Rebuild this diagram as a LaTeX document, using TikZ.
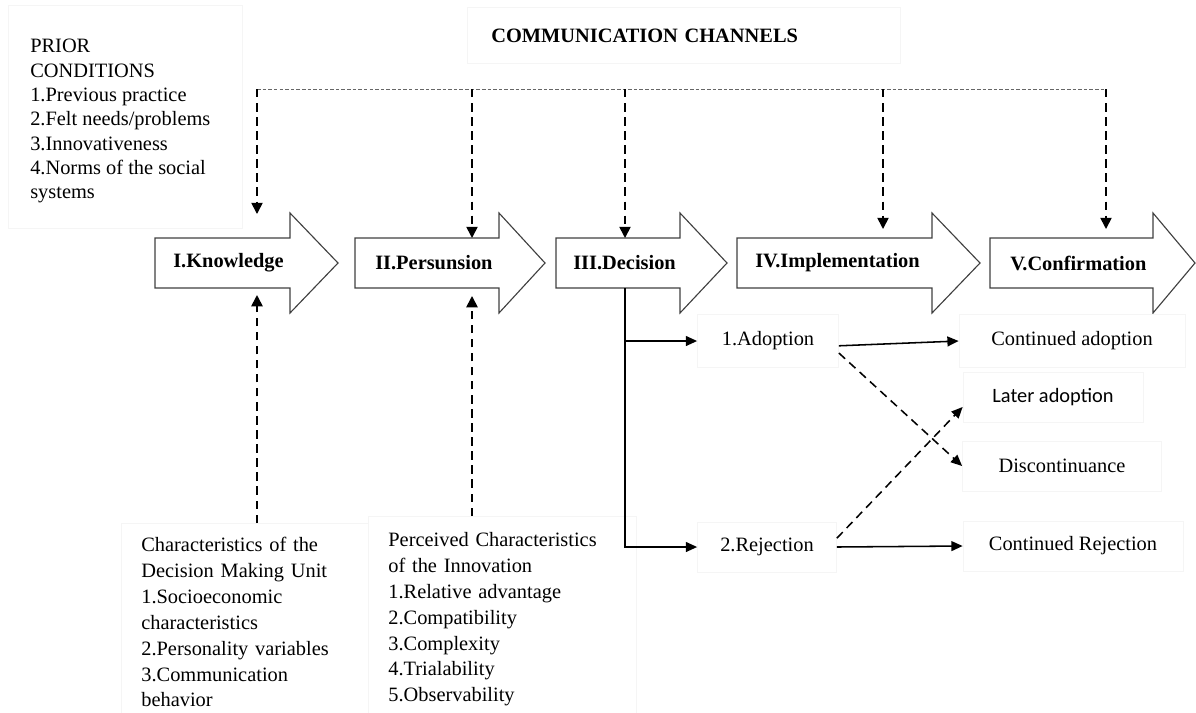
\documentclass[tikz,border=0pt]{standalone}
\usepackage{fontspec}
\setmainfont{Liberation Serif}
\newfontfamily\calibrifont{Carlito}
\usetikzlibrary{arrows.meta}

\newcommand*{\xmin}{0}
\newcommand*{\xmax}{1196}
\newcommand*{\ymin}{0}
\newcommand*{\ymax}{712}
% levels of the stage arrows
\newcommand*{\bodytop}{238}
\newcommand*{\bodybot}{288}
\newcommand*{\headtop}{213}
\newcommand*{\headbot}{313}
\newcommand*{\midline}{263}

\begin{document}
\begin{tikzpicture}
[
	x=0.025cm, y=-0.025cm,
	stage/.style={draw=black!75, line width=0.8pt, fill=white},
	stagelabel/.style={anchor=west, inner sep=0pt, font=\fontsize{14.5}{17}\selectfont\bfseries},
	txt/.style={font=\fontsize{14.5}{17.3}\selectfont},
	faint/.style={draw=black!4, line width=0.5pt},
	infobox/.style={faint, align=left, anchor=north west, font=\fontsize{14.5}{18.4}\selectfont},
	outbox/.style={faint, txt, minimum height=1.25cm, inner sep=0pt},
	chanline/.style={black!60, line width=0.6pt, dash pattern=on 2.5pt off 1.5pt},
	chanarrow/.style={-{Triangle[width=8pt,length=8pt]}, line width=1.2pt, dash pattern=on 6pt off 4pt},
	branch/.style={-{Triangle[width=7pt,length=8pt]}, line width=1.1pt},
	dasharrow/.style={branch, dash pattern=on 6pt off 4pt}
]

	\useasboundingbox (\xmin,\ymin) rectangle (\xmax,\ymax);

	% prior conditions
	\draw[faint] (8,5) rectangle (242,228);
	\node[txt, align=left, anchor=north west, inner sep=0pt] (prior) at (30,39)
		{PRIOR\\CONDITIONS\\1.Previous practice\\2.Felt needs/problems\\3.Innovativeness\\4.Norms of the  social\\systems};

	% communication channels
	\node[faint, txt, font=\fontsize{14.5}{17}\selectfont\bfseries, anchor=north west, align=left,
		text width=9.625cm, inner xsep=0.6cm, minimum height=1.4cm] (chan) at (467,7) {COMMUNICATION CHANNELS};

	% stages
	\draw[stage] (155,\bodytop) -- (290,\bodytop) -- (290,\headtop) -- (338,\midline) -- (290,\headbot) -- (290,\bodybot) -- (155,\bodybot) -- cycle;
	\node[stagelabel] (know) at (173,\midline) {I.Knowledge};

	\draw[stage] (355,\bodytop) -- (499,\bodytop) -- (499,\headtop) -- (545,\midline) -- (499,\headbot) -- (499,\bodybot) -- (355,\bodybot) -- cycle;
	\node[stagelabel] (pers) at (375,\midline) {II.Persunsion};

	\draw[stage] (556,\bodytop) -- (680,\bodytop) -- (680,\headtop) -- (727,\midline) -- (680,\headbot) -- (680,\bodybot) -- (556,\bodybot) -- cycle;
	\node[stagelabel] (dec) at (573,\midline) {III.Decision};

	\draw[stage] (737,\bodytop) -- (932,\bodytop) -- (932,\headtop) -- (980,\midline) -- (932,\headbot) -- (932,\bodybot) -- (737,\bodybot) -- cycle;
	\node[stagelabel] (impl) at (755,\midline) {IV.Implementation};

	\draw[stage] (990,\bodytop) -- (1153,\bodytop) -- (1153,\headtop) -- (1195,\midline) -- (1153,\headbot) -- (1153,\bodybot) -- (990,\bodybot) -- cycle;
	\node[stagelabel] (conf) at (1010,\midline) {V.Confirmation};

	% channel line and its drops
	\coordinate (ch-know) at (257,89);
	\coordinate (ch-pers) at (472,89);
	\coordinate (ch-dec) at (625,89);
	\coordinate (ch-impl) at (883,89);
	\coordinate (ch-conf) at (1106,89);
	\coordinate (know-in) at (257,214);
	\coordinate (pers-in) at (472,\bodytop);
	\coordinate (dec-in) at (625,\bodytop);
	\coordinate (impl-in) at (883,229);
	\coordinate (conf-in) at (1106,229);

	\draw[chanline] (ch-know) -- (ch-conf);
	\draw[chanarrow] (ch-know) -- (know-in);
	\draw[chanarrow] (ch-pers) -- (pers-in);
	\draw[chanarrow] (ch-dec) -- (dec-in);
	\draw[chanarrow] (ch-impl) -- (impl-in);
	\draw[chanarrow] (ch-conf) -- (conf-in);

	% characteristics below
	\node[infobox, text width=5.175cm, inner xsep=0.5cm, inner ysep=0.35cm] (dmu) at (121,523)
		{Characteristics of the\\Decision Making Unit\\1.Socioeconomic\\characteristics\\2.Personality variables\\3.Communication\\behavior};
	\node[infobox, text width=5.7cm, inner xsep=0.5cm, inner ysep=0.4cm] (innov) at (368,516)
		{Perceived Characteristics\\of the Innovation\\1.Relative advantage\\2.Compatibility\\3.Complexity\\4.Trialability\\5.Observability};

	\coordinate (know-out) at (257,295);
	\coordinate (pers-out) at (472,296);
	\draw[chanarrow] (dmu.north -| know-out) -- (know-out);
	\draw[chanarrow] (innov.north -| pers-out) -- (pers-out);

	% decision outcomes
	\coordinate (dec-foot) at (625,\bodybot);
	\node[outbox, minimum width=3.525cm, minimum height=1.325cm] (adopt) at (768,341) {1.Adoption};
	\node[outbox, minimum width=3.475cm] (reject) at (767,547) {2.Rejection};
	\node[outbox, minimum width=5.65cm, minimum height=1.325cm] (contadopt) at (1072,341) {Continued adoption};
	\node[outbox, minimum width=4.5cm, font=\calibrifont\fontsize{14.5}{17}\selectfont] (later) at (1053,397) {Later adoption};
	\node[outbox, minimum width=4.975cm] (discont) at (1062,466) {Discontinuance};
	\node[outbox, minimum width=5.5cm] (contrej) at (1073,546) {Continued Rejection};

	\draw[branch] (dec-foot) |- (adopt.west);
	\draw[branch] (dec-foot) |- (reject.west);
	\draw[branch] ([yshift=-0.12cm]adopt.east) -- (contadopt.west);
	\draw[dasharrow] ([yshift=-0.3cm]adopt.east) -- (discont.west);
	\draw[dasharrow] ([yshift=0.22cm]reject.east) -- ([yshift=-0.25cm]later.west);
	\draw[branch] (reject.east) -- (contrej.west);

\end{tikzpicture}
\end{document}
